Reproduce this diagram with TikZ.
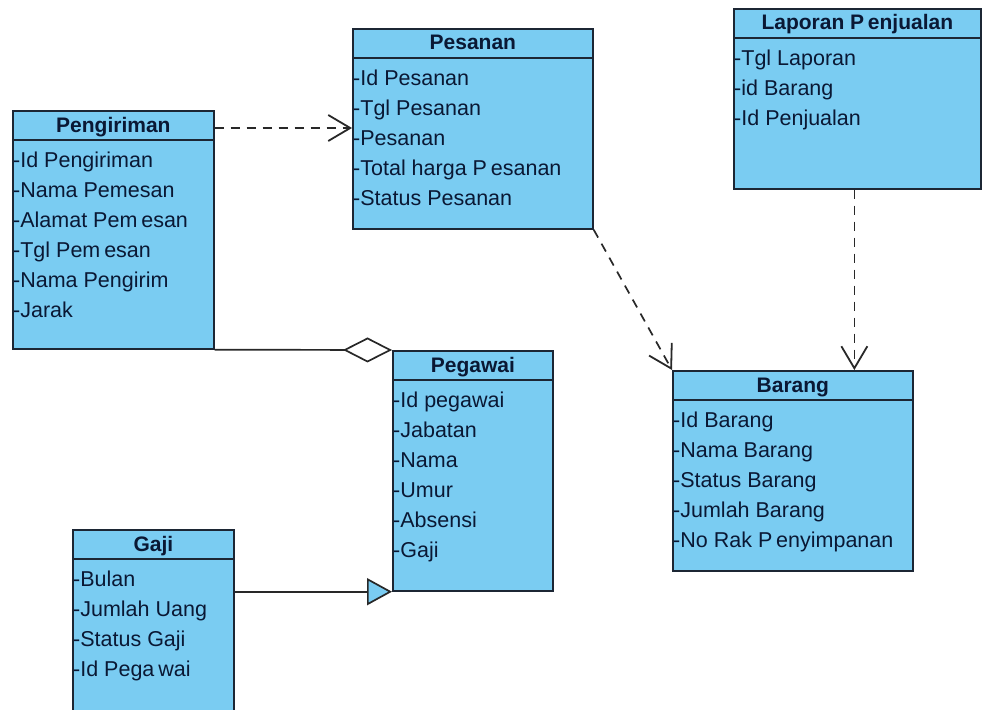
\documentclass[tikz,border=0pt]{standalone}
\usepackage{fontspec}
\setmainfont{Liberation Sans}
\usetikzlibrary{arrows.meta}

\definecolor{boxfill}{RGB}{122,204,242}
\definecolor{boxline}{RGB}{28,38,52}
\definecolor{txt}{RGB}{10,24,52}
\definecolor{linkc}{RGB}{40,40,40}

\tikzset{
  classbox/.style={draw=boxline, line width=1.7pt, fill=boxfill, anchor=north west, inner sep=0pt},
  classtitle/.style={font=\fontsize{21}{24}\selectfont\bfseries, text=txt, inner sep=0pt, anchor=base},
  classattr/.style={font=\fontsize{21.5}{24}\selectfont, text=txt, inner sep=0pt, anchor=base west},
  sepline/.style={draw=boxline, line width=1.7pt},
  dep/.style={draw=linkc, line width=1.7pt, dash pattern=on 9pt off 7pt,
    -{Straight Barb[length=22pt,width=26pt,line width=1.8pt]}},
  agg/.style={draw=linkc, line width=1.7pt,
    -{Diamond[open,length=49pt,width=25pt,line width=1.7pt]}},
  gen/.style={draw=linkc, line width=1.7pt,
    -{Triangle[fill=boxfill,length=25pt,width=27pt,line width=1.7pt]}},
}

% small gap inside a word, as the labels are printed
\newcommand\gp{\hspace{0.18em}}

% \umlclass{name}{x}{y}{width}{height}{title}{attributes}
\newcommand\umlclass[7]{%
  \node[classbox, minimum width=#4pt, minimum height=#5pt] (#1) at (#2,#3) {};
  \draw[sepline] ([yshift=-30pt]#1.north west) -- ([yshift=-30pt]#1.north east);
  \node[classtitle] (#1-title) at ([yshift=-22pt]#1.north) {#6};
  \foreach \a [count=\i] in {#7} {
    \node[classattr] (#1-a\i) at ([xshift=1pt,yshift={-(27+30*\i)*1pt}]#1.north west) {\a};
  }%
}

\begin{document}
\begin{tikzpicture}[x=1pt,y=-1pt]
  \clip (0,0) rectangle (984,709);
  \fill[white] (0,0) rectangle (984,709);

  \umlclass{peng}{12}{110}{201}{238}{Pengiriman}
    {-Id Pengiriman,-Nama Pemesan,-Alamat Pem\gp esan,-Tgl Pem\gp esan,-Nama Pengirim,-Jarak}
  \umlclass{pes}{352}{28}{240}{200}{Pesanan}
    {-Id Pesanan,-Tgl Pesanan,-Pesanan,-Total harga P\gp esanan,-Status Pesanan}
  \umlclass{lap}{733}{8}{247}{180}{Laporan P\gp enjualan}
    {-Tgl Laporan,-id Barang,-Id Penjualan}
  \umlclass{peg}{392}{350}{160}{240}{Pegawai}
    {-Id pegawai,-Jabatan,-Nama,-Umur,-Absensi,-Gaji}
  \umlclass{bar}{672}{370}{240}{200}{Barang}
    {-Id Barang,-Nama Barang,-Status Barang,-Jumlah Barang,-No Rak P\gp enyimpanan}
  \umlclass{gaji}{72}{529}{161}{200}{Gaji}
    {-Bulan,-Jumlah Uang,-Status Gaji,-Id Pega\gp wai}

  % relations
  \coordinate (r1) at (0,128);
  \draw[dep] (peng.east |- r1) -- (pes.west |- r1);
  \draw[dep] (pes.south east) -- (bar.north west);
  \draw[dep] ([xshift=-3pt]lap.south) -- ([xshift=-3pt]lap.south |- bar.north);
  \draw[agg] (peng.south east) -- (peg.north west);
  \draw[gen] (gaji.east |- peg.south west) -- (peg.south west);
\end{tikzpicture}
\end{document}
